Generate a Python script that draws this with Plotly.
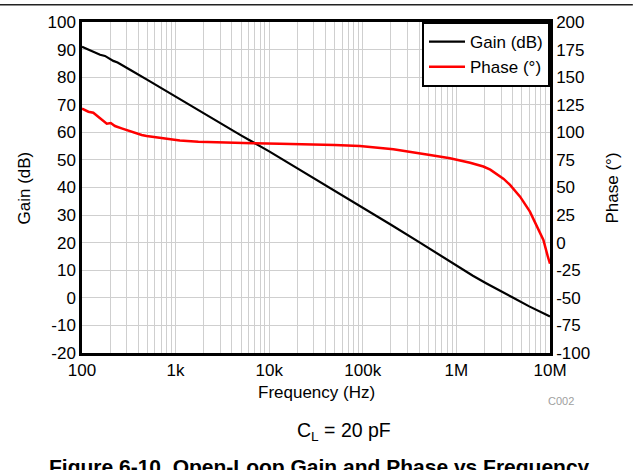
import plotly.graph_objects as go

# ---- data ----
gain_freq = [100, 103, 115, 132, 145, 156, 176, 195, 216, 240, 265, 326, 500,
             1000, 2000, 5000, 10000, 20000, 50000, 100000, 200000, 400000,
             700000, 1e6, 1.5e6, 2.1e6, 3e6, 4e6, 6e6, 1e7]
gain_db = [91.0, 90.8, 90.2, 89.3, 88.6, 88.1, 87.7, 86.8, 85.9, 85.3, 84.5, 82.7, 79.0,
           72.9, 66.9, 58.9, 53.1, 47.0, 39.0, 32.9, 26.5, 20.2,
           14.9, 11.6, 8.0, 5.2, 2.5, 0.1, -3.1, -6.8]

phase_freq = [100, 103, 117, 132, 149, 169, 184, 203, 225, 265, 312, 368, 434, 490, 628,
              801, 1110, 1750, 3000, 6700, 13000, 27000, 50000, 93000, 212000, 522000,
              855000, 1.4e6, 1.94e6, 2.3e6, 2.69e6, 3.2e6, 3.74e6, 4.79e6, 6.1e6, 7.2e6,
              8.5e6, 9.47e6, 1e7]
phase_deg = [121.5, 121.1, 118.7, 117.8, 114.2, 109.6, 107.8, 108.4, 105.7, 103.6, 101.5,
             99.7, 97.6, 96.7, 95.5, 94.0, 92.5, 91.5, 90.7, 90.1, 89.6, 89.2, 88.6, 87.6,
             84.6, 79.5, 76.5, 72.5, 69.0, 66.2, 62.6, 57.8, 52.3, 41.7, 28.1, 16.0,
             2.4, -12.5, -19.0]

decades = [100, 1000, 10000, 100000, 1000000, 10000000]
decade_labels = ["100", "1k", "10k", "100k", "1M", "10M"]

gain_ticks = list(range(-20, 101, 10))
gain_labels = [str(v) for v in gain_ticks]
phase_ticks = list(range(-100, 201, 25))
phase_labels = [str(v) for v in phase_ticks]

# minor grid positions (2..9 multiples within each decade)
minor_vals = [d * m for d in decades[:-1] for m in range(2, 10)]

FONT = "Liberation Sans, Arial, sans-serif"
GRID = "#cfcfcf"

fig = go.Figure()
fig.add_trace(go.Scatter(x=gain_freq, y=gain_db, mode="lines", name="Gain (dB)",
                         line=dict(color="black", width=2.2), yaxis="y"))
fig.add_trace(go.Scatter(x=phase_freq, y=phase_deg, mode="lines", name="Phase (°)",
                         line=dict(color="#ff0000", width=2.5), yaxis="y2"))

fig.update_layout(
    width=635, height=470,
    margin=dict(l=82, r=85, t=22, b=117),
    paper_bgcolor="white", plot_bgcolor="white",
    font=dict(family=FONT, size=17, color="black"),
    showlegend=True,
    legend=dict(x=1, y=1, xanchor="right", yanchor="top",
                bordercolor="black", borderwidth=2, bgcolor="white",
                font=dict(size=17), tracegroupgap=0, itemwidth=36),
    xaxis=dict(type="log", range=[2, 7], tickmode="array",
               tickvals=decades, ticktext=decade_labels,
               showgrid=True, gridcolor=GRID, gridwidth=1,
               minor=dict(tickmode="array", tickvals=minor_vals, showgrid=True,
                          gridcolor=GRID, gridwidth=1, ticks=""),
               showline=True, linecolor="black", linewidth=2.5, mirror=True,
               ticks="", zeroline=False, tickfont=dict(size=17)),
    yaxis=dict(range=[-20, 100], tickmode="array", tickvals=gain_ticks, ticktext=gain_labels,
               showgrid=True, gridcolor=GRID, gridwidth=1,
               showline=True, linecolor="black", linewidth=2.5, mirror=True,
               ticks="", zeroline=False, tickfont=dict(size=17)),
    yaxis2=dict(range=[-100, 200], tickmode="array", tickvals=phase_ticks, ticktext=phase_labels,
                overlaying="y", side="right",
                showgrid=False, showline=True, linecolor="black", linewidth=2.5,
                ticks="", zeroline=False, tickfont=dict(size=17)),
)

annotations = [
    dict(text="Gain (dB)", x=-0.1218, y=0.5, textangle=-90, font=dict(size=17)),
    dict(text="Phase (°)", x=1.1346, y=0.5, textangle=-90, font=dict(size=17)),
    dict(text="Frequency (Hz)", x=0.5, y=-0.118, font=dict(size=17)),
    dict(text="C002", x=1.0235, y=-0.1464, font=dict(size=11, color="#a0a0a0")),
    dict(text="C<sub>L</sub> = 20 pF", x=0.56, y=-0.238, font=dict(size=19.5)),
    dict(text="<b>Figure 6-10. Open-Loop Gain and Phase vs Frequency</b>",
         x=0.508, y=-0.342, font=dict(size=21)),
]
for a in annotations:
    a.update(xref="paper", yref="paper", showarrow=False, xanchor="center", yanchor="middle")
fig.update_layout(annotations=annotations)

fig.add_shape(type="line", xref="paper", yref="paper", x0=-0.176, x1=1.177,
              y0=1.0523, y1=1.0523, line=dict(color="#222222", width=1.5))

fig.write_html("out.html", config={"displayModeBar": False},
               post_script="document.body.style.margin='0px';document.body.style.padding='0px';")
